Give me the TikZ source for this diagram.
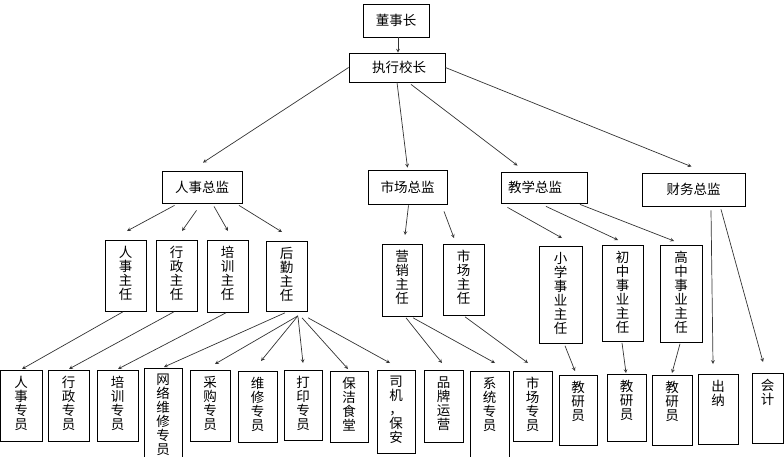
\documentclass[tikz,border=0pt]{standalone}
\usepackage{fontspec}
\setmainfont{Noto Sans CJK SC}
\usepackage{tikz}
\usetikzlibrary{arrows}
\tikzstyle{head} = [rectangle, draw=black, line width=0.8pt, inner sep=0pt, align=center]
\tikzstyle{col} = [rectangle, draw=black, line width=0.8pt, inner sep=0pt, anchor=north]
\tikzstyle{arrow1} = [->, >=stealth, line width=0.7pt, draw=black!80]
% vertical column of characters, top aligned in a box of given height
\newcommand{\colbox}[2]{\parbox[c][#1][t]{16pt}{\centering\vspace*{6pt}#2}}

\begin{document}
\begin{tikzpicture}[x=1pt, y=-1pt, font=\fontsize{13.5}{14}\selectfont]
            \useasboundingbox (0,0) rectangle (784,457);

            % Nodes
            \node (chair) [head, minimum width=66pt, minimum height=33pt] at (396,20.5) {董事长};
            \node (exec) [head, minimum width=96pt, minimum height=29pt] at (397,67.5) {\hspace*{4pt}执行校长};

            \node (hr) [head, minimum width=80pt, minimum height=32pt] at (202,187) {人事总监};
            \node (mkt) [head, minimum width=79pt, minimum height=34pt] at (407.5,187) {市场总监};
            \node (edu) [head, text width=72pt, inner xsep=7pt, align=left, minimum height=31pt] at (544,187.5) {教学总监};
            \node (fin) [head, minimum width=103pt, minimum height=33pt] at (693.5,189.5) {财务总监};

            \node (hrm) [col, minimum width=41pt] at (125.5,240) {\colbox{71pt}{人\\事\\主\\任}};
            \node (adm) [col, minimum width=41pt] at (176.5,240) {\colbox{71pt}{行\\政\\主\\任}};
            \node (trn) [col, minimum width=41pt] at (227.5,240) {\colbox{72pt}{培\\训\\主\\任}};
            \node (lgs) [col, minimum width=41pt] at (286.5,241) {\colbox{70pt}{后\\勤\\主\\任}};
            \node (sal) [col, minimum width=40pt] at (402,244) {\colbox{72pt}{营\\销\\主\\任}};
            \node (mkm) [col, minimum width=41pt] at (463.5,244) {\colbox{71pt}{市\\场\\主\\任}};
            \node (pri) [col, minimum width=43pt] at (560.5,246) {\colbox{97pt}{小\\学\\事\\业\\主\\任}};
            \node (mid) [col, minimum width=41pt] at (622.5,245) {\colbox{96pt}{初\\中\\事\\业\\主\\任}};
            \node (hig) [col, minimum width=42pt] at (681,245) {\colbox{97pt}{高\\中\\事\\业\\主\\任}};

            \node (s1) [col, minimum width=42pt] at (21,370) {\colbox{71pt}{人\\事\\专\\员}};
            \node (s2) [col, minimum width=41pt] at (68.5,370) {\colbox{71pt}{行\\政\\专\\员}};
            \node (s3) [col, minimum width=41pt] at (117.5,370) {\colbox{71pt}{培\\训\\专\\员}};
            \node (s4) [col, minimum width=38pt] at (163,368) {\colbox{110pt}{网\\络\\维\\修\\专\\员}};
            \node (s5) [col, minimum width=40pt] at (210,370) {\colbox{71pt}{采\\购\\专\\员}};
            \node (s6) [col, minimum width=39pt] at (257.5,371) {\colbox{71pt}{维\\修\\专\\员}};
            \node (s7) [col, minimum width=38pt] at (303,370) {\colbox{70pt}{打\\印\\专\\员}};
            \node (s8) [col, minimum width=38pt] at (349,371) {\colbox{71pt}{保\\洁\\食\\堂}};
            \node (s9) [col, minimum width=38pt] at (396,370) {\colbox{83pt}{司\\机\\，\\保\\安}};
            \node (s10) [col, minimum width=39pt] at (443.5,370) {\colbox{72pt}{品\\牌\\运\\营}};
            \node (s11) [col, minimum width=39pt] at (489.5,371) {\colbox{110pt}{系\\统\\专\\员}};
            \node (s12) [col, minimum width=39pt] at (532.5,371) {\colbox{70pt}{市\\场\\专\\员}};
            \node (t1) [col, minimum width=38pt] at (578,375) {\colbox{70pt}{教\\研\\员}};
            \node (t2) [col, minimum width=39pt] at (626.5,374) {\colbox{67pt}{教\\研\\员}};
            \node (t3) [col, minimum width=40pt] at (672,375) {\colbox{70pt}{教\\研\\员}};
            \node (cas) [col, minimum width=40pt] at (718,374) {\colbox{70pt}{出\\纳}};
            \node (acc) [col, minimum width=31pt] at (767.5,373) {\colbox{70pt}{会\\计}};

            % Edges
            \draw [arrow1] ([xshift=2pt]chair.south) -- ([xshift=1pt]exec.north);

            \draw [arrow1] (exec.west) -- ([xshift=1pt,yshift=8pt]hr.north);
            \draw [arrow1] (exec.south) -- ([yshift=2pt]mkt.north);
            \draw [arrow1] ([xshift=14pt,yshift=-2pt]exec.south) -- ([xshift=-26.5pt,yshift=6pt]edu.north);
            \draw [arrow1] (exec.east) -- ([xshift=-2pt,yshift=6pt]fin.north);

            \draw [arrow1] ([xshift=-27.5pt,yshift=-2pt]hr.south) -- ([xshift=1.5pt,yshift=9pt]hrm.north);
            \draw [arrow1] ([xshift=-5.5pt,yshift=-7pt]hr.south) -- ([xshift=5.5pt,yshift=9pt]adm.north);
            \draw [arrow1] ([xshift=12pt,yshift=-3pt]hr.south) -- ([xshift=0.5pt,yshift=9pt]trn.north);
            \draw [arrow1] ([xshift=37pt,yshift=-2pt]hr.south) -- ([xshift=-4.5pt,yshift=9pt]lgs.north);
            \draw [arrow1] ([xshift=1pt,yshift=-1pt]mkt.south) -- ([xshift=3pt,yshift=9pt]sal.north);
            \draw [arrow1] ([xshift=36.5pt,yshift=-7pt]mkt.south) -- ([xshift=-9.5pt,yshift=6pt]mkm.north);
            \draw [arrow1] ([xshift=-36.5pt,yshift=-4pt]edu.south) -- ([xshift=1.5pt,yshift=8pt]pri.north);
            \draw [arrow1] ([xshift=2pt,yshift=-3pt]edu.south) -- ([xshift=-4.5pt,yshift=5pt]mid.north);
            \draw [arrow1] ([xshift=36pt,yshift=-1pt]edu.south) -- ([xshift=-7pt,yshift=4pt]hig.north);
            \draw [arrow1] ([xshift=17.5pt,yshift=-4pt]fin.south) -- ([xshift=-5pt,yshift=10pt]cas.north);
            \draw [arrow1] ([xshift=27.5pt,yshift=-3pt]fin.south) -- ([xshift=-4.5pt,yshift=11pt]acc.north);

            \draw [arrow1] ([xshift=-2.5pt]hrm.south) -- ([xshift=1pt,yshift=1pt]s1.north);
            \draw [arrow1] ([xshift=-2.5pt]adm.south) -- ([xshift=0.5pt,yshift=1pt]s2.north);
            \draw [arrow1] ([xshift=-1.5pt]trn.south) -- ([xshift=0.5pt,yshift=1pt]s3.north);
            \draw [arrow1] ([xshift=-1.5pt,yshift=-1pt]lgs.south) -- ([xshift=1pt,yshift=1pt]s4.north);
            \draw [arrow1] ([xshift=11.5pt,yshift=-4pt]lgs.south) -- ([xshift=5pt,yshift=6pt]s5.north);
            \draw [arrow1] ([xshift=11.5pt,yshift=-4pt]lgs.south) -- ([xshift=3.5pt,yshift=10pt]s6.north);
            \draw [arrow1] ([xshift=11.5pt,yshift=-5pt]lgs.south) -- ([yshift=7pt]s7.north);
            \draw [arrow1] ([xshift=15.5pt,yshift=-6pt]lgs.south) -- ([xshift=-1pt,yshift=2pt]s8.north);
            \draw [arrow1] ([xshift=21.5pt,yshift=-6pt]lgs.south) -- ([xshift=-6pt,yshift=7pt]s9.north);
            \draw [arrow1] ([xshift=4pt,yshift=-1pt]sal.south) -- ([xshift=-1.5pt,yshift=7pt]s10.north);
            \draw [arrow1] ([xshift=11pt,yshift=-1pt]sal.south) -- ([xshift=5.5pt,yshift=8pt]s11.north);
            \draw [arrow1] ([xshift=1.5pt,yshift=-1pt]mkm.south) -- ([xshift=-4.5pt,yshift=8pt]s12.north);
            \draw [arrow1] ([xshift=4.5pt,yshift=-2pt]pri.south) -- ([xshift=-3pt,yshift=4pt]t1.north);
            \draw [arrow1] ([xshift=-0.5pt,yshift=-1pt]mid.south) -- ([xshift=-0.5pt,yshift=1pt]t2.north);
            \draw [arrow1] ([xshift=-1pt,yshift=-1pt]hig.south) -- ([yshift=2pt]t3.north);

        \end{tikzpicture}
\end{document}
